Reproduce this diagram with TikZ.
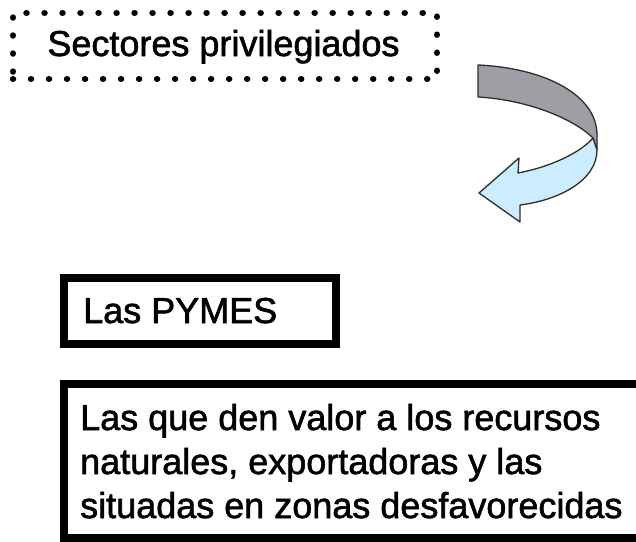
\documentclass[tikz,border=0pt]{standalone}
\usepackage{fontspec}
\setmainfont{Liberation Sans}
\newfontfamily\heavysans[FakeBold=1.6]{Liberation Sans}
\definecolor{bandgray}{RGB}{160,158,164}
\definecolor{bandblue}{RGB}{204,236,255}
\definecolor{edgegray}{RGB}{45,45,45}
\tikzset{
  dotbox/.style={draw=black, line width=6.5pt, dash pattern=on 0.01pt off 18pt, line cap=round, fill=none, inner sep=0pt},
  thickbox/.style={draw=black, line width=8pt, inner sep=0pt},
  label36/.style={font=\heavysans\fontsize{36}{44}\selectfont, inner sep=0pt, anchor=base west, align=left},
  band/.style={draw=edgegray, line width=1.3pt, line join=round}
}
\begin{document}
\begin{tikzpicture}[x=1pt,y=-1pt]
\useasboundingbox (0,0) rectangle (636,541);
\begin{scope}
\clip (0,0) rectangle (636,541);
% dotted box
\node[dotbox, minimum width=424pt, minimum height=66pt] (sectbox) at (225,46) {};
\node[label36, anchor=base] (sect) at (223.5,56) {Sectores privilegiados};
% curved twisted arrow
\path[band, fill=bandgray] (478,65) .. controls (545,68) and (597,95) .. (597,135) -- (597,150) -- (593,138) .. controls (575,120) and (530,100) .. (478,97) -- cycle;
\path[band, fill=bandblue] (593,138) -- (597,150) .. controls (597,180) and (560,200) .. (520,205) -- (520,222) -- (479,193) -- (519,158) -- (518,173) .. controls (550,167) and (580,153) .. (593,138) -- cycle;
% PYMES box
\node[thickbox, minimum width=272pt, minimum height=66pt] (pymesbox) at (200,311) {};
\node[label36] (pymes) at (83,323) {Las PYMES};
% big box
\node[thickbox, minimum width=578pt, minimum height=154pt] (bigbox) at (353,461) {};
\node[label36] (big) at (80,518) {Las que den valor a los recursos\\naturales, exportadoras y las\\situadas en zonas desfavorecidas};
\end{scope}
\end{tikzpicture}
\end{document}
